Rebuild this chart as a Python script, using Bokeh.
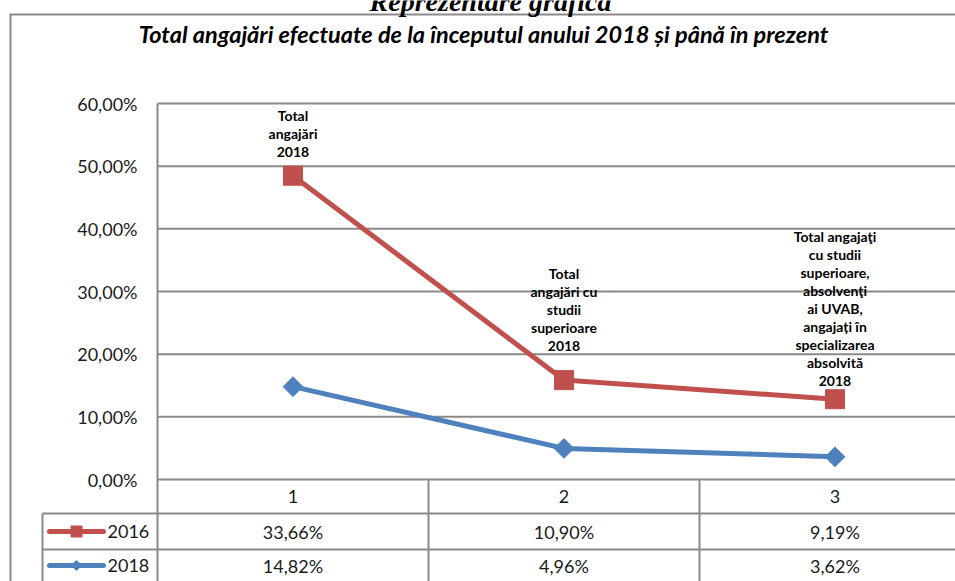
import numpy as np
from bokeh.plotting import figure
from bokeh.models import Range1d
from bokeh.core.properties import value
from bokeh.embed import file_html
from bokeh.resources import INLINE

# ---------------- data ----------------
categories = ["1", "2", "3"]
series_names = ["2016", "2018"]
values_2016 = [0.3366, 0.1090, 0.0919]
values_2018 = [0.1482, 0.0496, 0.0362]
point_labels = [
    "Total\nangajări\n2018",
    "Total\nangajări cu\nstudii\nsuperioare\n2018",
    "Total angajaţi\ncu studii\nsuperioare,\nabsolvenţi\nai UVAB,\nangajați în\nspecializarea\nabsolvită\n2018",
]
y_ticks = [0.0, 0.1, 0.2, 0.3, 0.4, 0.5, 0.6]
chart_title = "Total angajări efectuate de la începutul anului 2018 și până în prezent"
doc_heading = "Reprezentare grafică"

RED = "#C0504D"
BLUE = "#4F81BD"
GRID = "#8a8a8a"
TXT = "#1a1a1a"
LABEL_OFFSETS = [-16, -26, -10]   # pixel nudges of the data labels (style)


def pct(v):
    return f"{v * 100:.2f}%".replace(".", ",")


# ---------------- canvas geometry (pixels) ----------------
W, H = 955, 581
PLOT_LEFT = 157      # left edge of the first category band
BAND = 271           # width of one category band
ZERO_Y = 479         # pixel row of 0 %
TOP_Y = 103          # pixel row of 60 %
PPU = (ZERO_Y - TOP_Y) / y_ticks[-1]

x_start = 0.5 - PLOT_LEFT / BAND
x_end = 0.5 + (W - PLOT_LEFT) / BAND
y_start = (ZERO_Y - H) / PPU
y_end = ZERO_Y / PPU


def X(px):
    return 0.5 + (px - PLOT_LEFT) / BAND


def Y(py):
    return (ZERO_Y - py) / PPU


p = figure(width=W, height=H, x_range=Range1d(x_start, x_end), y_range=Range1d(y_start, y_end),
           x_axis_location=None, y_axis_location=None, min_border=0,
           toolbar_location=None, output_backend="svg", outline_line_color=None,
           background_fill_color="white", border_fill_color="white")
p.grid.visible = False

xs = np.arange(1, len(categories) + 1)
v16 = np.array(values_2016)
v18 = np.array(values_2018)
stacked_16 = v18 + v16   # Excel stacked line chart

# outer chart border
p.segment(x0=[X(9), X(10)], y0=[Y(14), Y(14)], x1=[X(W), X(10)], y1=[Y(14), Y(H)],
          line_color=GRID, line_width=2)

# heading (cut off at the top, as in the scanned page) and chart title
p.text(x=[X(490)], y=[Y(1)], text=[doc_heading], text_align="center", text_baseline="alphabetic",
       text_font=value("Liberation Serif"), text_font_style="bold italic", text_font_size="28px",
       text_color="black")
p.text(x=[X(483)], y=[Y(33)], text=[chart_title], text_align="center", text_baseline="middle",
       text_font=value("Lato"), text_font_style="bold italic", text_font_size="23.5px",
       text_color="black")

# gridlines and value axis line
p.segment(x0=X(PLOT_LEFT), x1=X(W), y0=y_ticks, y1=y_ticks, line_color=GRID, line_width=2)
p.segment(x0=[0.5], y0=[y_ticks[-1]], x1=[0.5], y1=[Y(H)], line_color=GRID, line_width=2)
p.text(x=X(PLOT_LEFT - 20), y=y_ticks, text=[pct(v) for v in y_ticks], text_align="right",
       text_baseline="middle", text_font=value("Lato"), text_font_size="18px", text_color=TXT)

# data table
ROW1_BOTTOM, ROW2_BOTTOM, LEG_LEFT = 513, 549, 42
p.segment(x0=X(LEG_LEFT), x1=X(W), y0=[Y(ROW1_BOTTOM), Y(ROW2_BOTTOM)], y1=[Y(ROW1_BOTTOM), Y(ROW2_BOTTOM)],
          line_color=GRID, line_width=2)
sep = list(xs[:-1] + 0.5)
p.segment(x0=sep, x1=sep, y0=0, y1=Y(H), line_color=GRID, line_width=2)
p.segment(x0=[X(LEG_LEFT)], x1=[X(LEG_LEFT)], y0=[Y(ROW1_BOTTOM)], y1=[Y(H)], line_color=GRID, line_width=2)

hdr_y = Y((ZERO_Y + ROW1_BOTTOM) / 2)
r16_y = Y((ROW1_BOTTOM + ROW2_BOTTOM) / 2)
r18_y = Y(ROW2_BOTTOM + 16)
p.text(x=xs, y=hdr_y, text=categories, text_align="center", text_baseline="middle",
       text_font=value("Lato"), text_font_size="18px", text_color=TXT)
p.text(x=xs, y=r16_y, text=[pct(v) for v in values_2016], text_align="center", text_baseline="middle",
       text_font=value("Lato"), text_font_size="18px", text_color=TXT)
p.text(x=xs, y=r18_y, text=[pct(v) for v in values_2018], text_align="center", text_baseline="middle",
       text_font=value("Lato"), text_font_size="18px", text_color=TXT)

# legend keys inside the table
for ry, col, name, mk in [(r16_y, RED, series_names[0], "sq"), (r18_y, BLUE, series_names[1], "di")]:
    p.line(x=[X(49), X(103)], y=[ry, ry], line_color=col, line_width=5, line_cap="round")
    if mk == "sq":
        p.scatter(x=[X(76)], y=[ry], marker="square", size=11, fill_color=col, line_color=col)
    else:
        p.scatter(x=[X(76)], y=[ry], marker="square", size=7, angle=np.pi / 4, fill_color=col, line_color=col)
    p.text(x=[X(107)], y=[ry], text=[name], text_align="left", text_baseline="middle",
           text_font=value("Lato"), text_font_size="18px", text_color=TXT)

# series
p.line(x=xs, y=v18, line_color=BLUE, line_width=5, line_join="round")
p.scatter(x=xs, y=v18, marker="square", size=14, angle=np.pi / 4, fill_color=BLUE, line_color=BLUE)
p.line(x=xs, y=stacked_16, line_color=RED, line_width=5, line_join="round")
p.scatter(x=xs, y=stacked_16, marker="square", size=19, fill_color=RED, line_color=RED)

# data labels above the red points
p.text(x=xs, y=stacked_16, text=point_labels, text_align="center", text_baseline="bottom",
       y_offset=LABEL_OFFSETS, text_font=value("Lato"), text_font_style="bold", text_font_size="14px",
       text_line_height=1.06, text_color="black")

open("out.html", "w").write(file_html(p, INLINE))
